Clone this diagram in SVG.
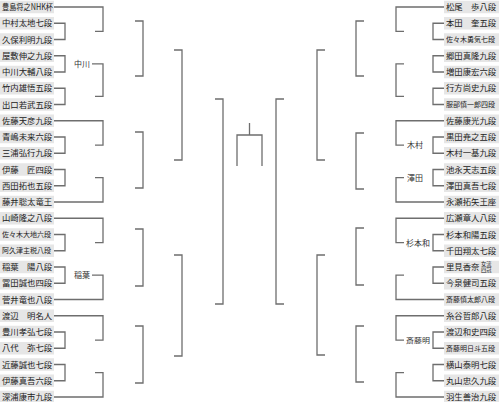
<svg xmlns="http://www.w3.org/2000/svg" width="499" height="402" viewBox="0 0 499 402">
<style>
.b{fill:#e6e6e6}
text{font-family:"Noto Sans CJK JP","Noto Sans CJK SC",sans-serif;font-size:8.4px;fill:#222}
.s{font-size:7px}
.t{font-size:5.2px}
.l{font-size:8px;fill:#333}
#connectors path{fill:none;stroke:#6e6e6e;stroke-width:1.3}
</style>
<rect width="499" height="402" fill="#fff"/>
<g id="left">
<g id="L1"><rect class="b" x="0" y="0.75" width="54" height="12.5"/><text x="2" y="10.2" textLength="51" lengthAdjust="spacingAndGlyphs">豊島将之NHK杯</text></g>
<g id="L2"><rect class="b" x="0" y="17" width="54" height="12.5"/><text x="2" y="26.45">中村太地七段</text></g>
<g id="L3"><rect class="b" x="0" y="33.25" width="54" height="12.5"/><text x="2" y="42.7">久保利明九段</text></g>
<g id="L4"><rect class="b" x="0" y="49.5" width="54" height="12.5"/><text x="2" y="58.95">屋敷伸之九段</text></g>
<g id="L5"><rect class="b" x="0" y="65.75" width="54" height="12.5"/><text x="2" y="75.2">中川大輔八段</text></g>
<g id="L6"><rect class="b" x="0" y="82" width="54" height="12.5"/><text x="2" y="91.45">竹内雄悟五段</text></g>
<g id="L7"><rect class="b" x="0" y="98.25" width="54" height="12.5"/><text x="2" y="107.7">出口若武五段</text></g>
<g id="L8"><rect class="b" x="0" y="114.5" width="54" height="12.5"/><text x="2" y="123.95">佐藤天彦九段</text></g>
<g id="L9"><rect class="b" x="0" y="130.75" width="54" height="12.5"/><text x="2" y="140.2">青嶋未来六段</text></g>
<g id="L10"><rect class="b" x="0" y="147" width="54" height="12.5"/><text x="2" y="156.45">三浦弘行九段</text></g>
<g id="L11"><rect class="b" x="0" y="163.25" width="54" height="12.5"/><text x="2" y="172.7">伊藤　匠四段</text></g>
<g id="L12"><rect class="b" x="0" y="179.5" width="54" height="12.5"/><text x="2" y="188.95">西田拓也五段</text></g>
<g id="L13"><rect class="b" x="0" y="195.75" width="54" height="12.5"/><text x="2" y="205.2">藤井聡太竜王</text></g>
<g id="L14"><rect class="b" x="0" y="212" width="54" height="12.5"/><text x="2" y="221.45">山崎隆之八段</text></g>
<g id="L15"><rect class="b" x="0" y="228.25" width="54" height="12.5"/><text class="s" x="2" y="237.2">佐々木大地六段</text></g>
<g id="L16"><rect class="b" x="0" y="244.5" width="54" height="12.5"/><text class="s" x="2" y="253.45">阿久津主税八段</text></g>
<g id="L17"><rect class="b" x="0" y="260.75" width="54" height="12.5"/><text x="2" y="270.2">稲葉　陽八段</text></g>
<g id="L18"><rect class="b" x="0" y="277" width="54" height="12.5"/><text x="2" y="286.45">冨田誠也四段</text></g>
<g id="L19"><rect class="b" x="0" y="293.25" width="54" height="12.5"/><text x="2" y="302.7">菅井竜也八段</text></g>
<g id="L20"><rect class="b" x="0" y="309.5" width="54" height="12.5"/><text x="2" y="318.95">渡辺　明名人</text></g>
<g id="L21"><rect class="b" x="0" y="325.75" width="54" height="12.5"/><text x="2" y="335.2">豊川孝弘七段</text></g>
<g id="L22"><rect class="b" x="0" y="342" width="54" height="12.5"/><text x="2" y="351.45">八代　弥七段</text></g>
<g id="L23"><rect class="b" x="0" y="358.25" width="54" height="12.5"/><text x="2" y="367.7">近藤誠也七段</text></g>
<g id="L24"><rect class="b" x="0" y="374.5" width="54" height="12.5"/><text x="2" y="383.95">伊藤真吾六段</text></g>
<g id="L25"><rect class="b" x="0" y="390.75" width="54" height="12.5"/><text x="2" y="400.2">深浦康市九段</text></g>
</g>
<g id="right">
<g id="R1"><rect class="b" x="444" y="0.75" width="55" height="12.5"/><text x="446" y="10.2">松尾　歩八段</text></g>
<g id="R2"><rect class="b" x="444" y="17" width="55" height="12.5"/><text x="446" y="26.45">本田　奎五段</text></g>
<g id="R3"><rect class="b" x="444" y="33.25" width="55" height="12.5"/><text class="s" x="446" y="42.2">佐々木勇気七段</text></g>
<g id="R4"><rect class="b" x="444" y="49.5" width="55" height="12.5"/><text x="446" y="58.95">郷田真隆九段</text></g>
<g id="R5"><rect class="b" x="444" y="65.75" width="55" height="12.5"/><text x="446" y="75.2">増田康宏六段</text></g>
<g id="R6"><rect class="b" x="444" y="82" width="55" height="12.5"/><text x="446" y="91.45">行方尚史九段</text></g>
<g id="R7"><rect class="b" x="444" y="98.25" width="55" height="12.5"/><text class="s" x="446" y="107.2">服部慎一郎四段</text></g>
<g id="R8"><rect class="b" x="444" y="114.5" width="55" height="12.5"/><text x="446" y="123.95">佐藤康光九段</text></g>
<g id="R9"><rect class="b" x="444" y="130.75" width="55" height="12.5"/><text x="446" y="140.2">黒田尭之五段</text></g>
<g id="R10"><rect class="b" x="444" y="147" width="55" height="12.5"/><text x="446" y="156.45">木村一基九段</text></g>
<g id="R11"><rect class="b" x="444" y="163.25" width="55" height="12.5"/><text x="446" y="172.7">池永天志五段</text></g>
<g id="R12"><rect class="b" x="444" y="179.5" width="55" height="12.5"/><text x="446" y="188.95">澤田真吾七段</text></g>
<g id="R13"><rect class="b" x="444" y="195.75" width="55" height="12.5"/><text x="446" y="205.2">永瀬拓矢王座</text></g>
<g id="R14"><rect class="b" x="444" y="212" width="55" height="12.5"/><text x="446" y="221.45">広瀬章人八段</text></g>
<g id="R15"><rect class="b" x="444" y="228.25" width="55" height="12.5"/><text x="446" y="237.7">杉本和陽五段</text></g>
<g id="R16"><rect class="b" x="444" y="244.5" width="55" height="12.5"/><text x="446" y="253.95">千田翔太七段</text></g>
<g id="R17"><rect class="b" x="444" y="260.75" width="55" height="12.5"/><text x="446" y="270.2">里見香奈</text><text class="t" x="481" y="266"><tspan x="481" y="266">女流</tspan><tspan x="481" y="271.8">四冠</tspan></text></g>
<g id="R18"><rect class="b" x="444" y="277" width="55" height="12.5"/><text x="446" y="286.45">今泉健司五段</text></g>
<g id="R19"><rect class="b" x="444" y="293.25" width="55" height="12.5"/><text class="s" x="446" y="302.2">斎藤慎太郎八段</text></g>
<g id="R20"><rect class="b" x="444" y="309.5" width="55" height="12.5"/><text x="446" y="318.95">糸谷哲郎八段</text></g>
<g id="R21"><rect class="b" x="444" y="325.75" width="55" height="12.5"/><text x="446" y="335.2">渡辺和史四段</text></g>
<g id="R22"><rect class="b" x="444" y="342" width="55" height="12.5"/><text class="s" x="446" y="350.95">斎藤明日斗五段</text></g>
<g id="R23"><rect class="b" x="444" y="358.25" width="55" height="12.5"/><text x="446" y="367.7">横山泰明七段</text></g>
<g id="R24"><rect class="b" x="444" y="374.5" width="55" height="12.5"/><text x="446" y="383.95">丸山忠久九段</text></g>
<g id="R25"><rect class="b" x="444" y="390.75" width="55" height="12.5"/><text x="446" y="400.2">羽生善治九段</text></g>
</g>
<g id="labels">
<text class="l" x="74" y="66.8">中川</text>
<text class="l" x="74" y="278">稲葉</text>
<text class="l" x="407" y="148">木村</text>
<text class="l" x="407" y="180.5">澤田</text>
<text class="l" x="406" y="245.5">杉本和</text>
<text class="l" x="406" y="342.8" textLength="24" lengthAdjust="spacingAndGlyphs" style="font-size:7px">斎藤明</text>
</g>
<g id="connectors">
<path d="M54 23.25H65V39.5H54M54 55.75H65V72H54M54 88.25H65V104.5H54M54 137H65V153.25H54M54 169.5H65V185.75H54M54 234.5H65V250.75H54M54 267H65V283.25H54M54 332H65V348.25H54M54 364.5H65V380.75H54"/>
<path d="M444 23.25H433V39.5H444M444 55.75H433V72H444M444 88.25H433V104.5H444M444 137H433V153.25H444M444 169.5H433V185.75H444M444 234.5H433V250.75H444M444 267H433V283.25H444M444 332H433V348.25H444M444 364.5H433V380.75H444"/>
<path d="M54 7H103V31.4H95M92 63.9H103V96.4H95M54 120.75H103V145.1H95M95 177.6H103V202H54M54 218.25H103V242.6H95M92 275.1H103V299.5H54M54 315.75H103V340.1H95M95 372.6H103V397H54"/>
<path d="M444 7H396V31.4H404M404 63.9H396V96.4H404M444 120.75H396V145.1H404M404 177.6H396V202H444M444 218.25H396V242.6H404M404 275.1H396V299.5H444M444 315.75H396V340.1H404M404 372.6H396V397H444"/>
<path d="M135 21H143V76H135M135 132H143V188H135M135 229H143V286H135M135 326H143V383H135"/>
<path d="M364 21H356V76H364M364 133H356V189H364M364 228H356V285H364M364 326H356V382H364"/>
<path d="M174 50H182V160H174M174 255H182V356H174M325 50H317V160H325M325 255H317V355H325"/>
<path d="M215 99H223V304H215M284 99H276V304H284"/>
<path d="M237 166V135H262V166M249.5 135V123"/>
</g>
</svg>
